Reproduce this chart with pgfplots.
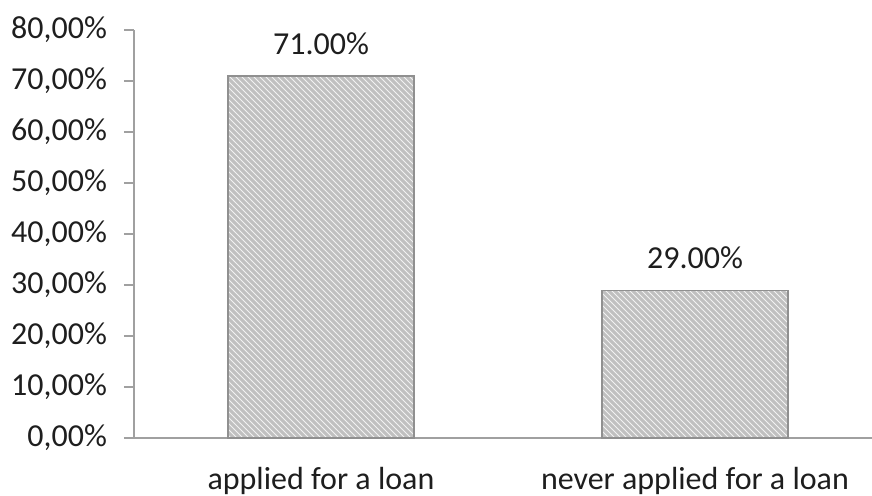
\documentclass[border=0pt]{standalone}
\usepackage{fontspec}
\setmainfont{Carlito}
\usepackage{pgfplots}
\pgfplotsset{compat=1.18}
\usetikzlibrary{patterns}

\definecolor{axisgray}{HTML}{A0A0A0}
\definecolor{txt}{HTML}{1E1E1E}
\definecolor{barfill}{HTML}{C0C0C0}
\definecolor{barline}{HTML}{909090}

\begin{document}
\begin{tikzpicture}
\begin{axis}[
    at={(0,0)}, anchor=south west,
    scale only axis,
    width=369pt, height=204pt,
    xmin=-0.5, xmax=1.4733,
    ymin=0, ymax=80,
    axis x line*=bottom, axis y line*=left,
    axis line style={draw=axisgray, line width=1pt, -},
    ytick={0,10,...,80},
    xtick={0,1},
    xticklabels={applied for a loan, never applied for a loan},
    extra x ticks={-0.5,0.5},
    extra x tick labels={},
    extra x tick style={major tick length=5pt, tick style={draw=axisgray, line width=1pt}},
    xtick style={draw=none},
    ytick style={draw=axisgray, line width=1pt},
    tick align=outside,
    major tick length=5pt,
    /pgf/number format/assume math mode=true,
    yticklabel={\pgfmathprintnumber[fixed,fixed zerofill,precision=2,use comma]{\tick}\%},
    ticklabel style={font=\fontsize{16}{18}\selectfont, text=txt},
    yticklabel style={xshift=-5pt},
    xticklabel style={yshift=-6pt},
    ybar, bar width=93pt,
    nodes near coords={\pgfmathprintnumber[fixed,fixed zerofill,precision=2]{\pgfplotspointmeta}\%},
    nodes near coords style={font=\fontsize{16}{18}\selectfont, text=txt, yshift=7pt},
    clip=false,
]
\addplot[fill=barfill, draw=barline, line width=0.6pt,
    postaction={pattern=north west lines, pattern color=white!90!gray}]
    coordinates {(0,71) (1,29)};
\end{axis}
\pgfresetboundingbox
\path (-67pt,-28.5pt) rectangle (369pt,219pt);
\end{tikzpicture}
\end{document}
